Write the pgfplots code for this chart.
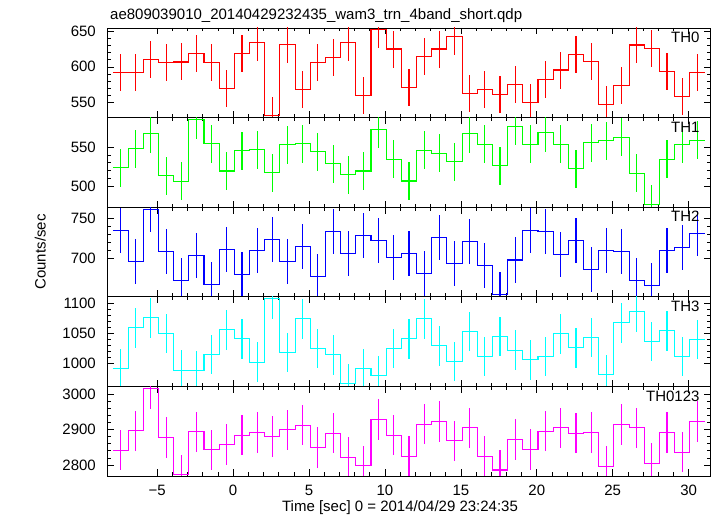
\documentclass[border=0pt]{standalone}
\usepackage{fontspec}
\setmainfont{Liberation Sans}
\usepackage{pgfplots}
\pgfplotsset{compat=1.18}
\usepackage{pgfplotstable}

\definecolor{qred}{RGB}{255,0,0}
\definecolor{qgreen}{RGB}{0,255,0}
\definecolor{qblue}{RGB}{0,0,255}
\definecolor{qcyan}{RGB}{0,255,255}
\definecolor{qmag}{RGB}{255,0,255}

\pgfplotstableread{
x a b c d e
-7.42 592.3 523.9 735.1 990.3 2841.8
-6.42 592.3 547.7 696.8 1058.8 2896.3
-5.42 610.6 566.6 761.0 1075.5 3016.1
-4.42 605.8 513.8 708.6 1049.2 2877.7
-3.42 606.8 506.7 673.3 988.0 2772.0
-2.42 618.5 584.2 704.2 987.5 2893.5
-1.42 606.4 554.0 668.4 1014.2 2842.7
-0.42 569.7 519.6 711.6 1055.4 2857.9
0.58 618.5 545.2 679.9 1040.4 2884.2
1.58 634.5 546.5 710.4 1001.3 2891.8
2.58 532.0 517.6 723.5 1107.2 2880.5
3.58 631.7 552.8 696.8 1017.5 2899.2
4.58 568.7 554.0 715.3 1073.8 2912.4
5.58 605.8 544.0 677.4 1024.2 2849.4
6.58 612.8 528.9 733.8 1013.7 2889.8
7.58 634.5 515.0 706.7 965.3 2821.2
8.58 559.9 519.6 728.9 990.3 2797.5
9.58 652.8 572.4 722.7 979.1 2928.5
10.58 625.0 534.3 701.7 1024.2 2884.2
11.58 571.1 507.0 706.2 1040.4 2824.0
12.58 614.8 545.6 681.1 1073.8 2915.3
13.58 625.0 542.2 726.8 1028.7 2922.9
14.58 642.4 531.4 693.8 1002.5 2868.1
15.58 562.1 566.6 721.9 1053.1 2904.8
16.58 568.3 553.5 691.8 1010.9 2824.0
17.58 561.3 526.4 655.6 1044.2 2785.3
18.58 575.4 576.1 698.4 1021.4 2872.0
19.58 550.4 553.1 735.4 1005.3 2843.8
20.58 582.4 567.8 734.2 1010.4 2895.5
21.58 595.5 553.5 705.8 1048.7 2904.8
22.58 617.6 522.6 722.7 1025.4 2889.8
23.58 607.2 555.3 686.4 1042.6 2891.8
24.58 547.2 557.8 710.4 980.3 2795.8
25.58 574.0 561.9 709.1 1067.1 2914.4
26.58 630.7 516.7 673.3 1085.5 2904.8
27.58 625.5 477.4 666.7 1036.4 2805.1
28.58 593.7 534.3 710.4 1053.8 2891.8
29.58 558.5 553.1 714.0 1010.4 2836.2
30.58 592.3 558.2 731.7 1039.2 2922.9
31.58 592.3 558.2 731.7 1039.2 2922.9
}\data

\newcommand{\ff}{\fontsize{15bp}{18bp}\selectfont}

\pgfplotsset{
  panel/.style={
    anchor=south west,
    width=603bp, height=89.6bp, scale only axis,
    xmin=-8.31, xmax=31.41,
    xtick={-5,0,5,10,15,20,25,30},
    xticklabels={},
    minor x tick num=4,
    minor y tick num=4,
    tick pos=both,
    tick align=inside,
    major tick length=6.5bp,
    minor tick length=3.5bp,
    every tick/.style={black, line width=0.6bp},
    axis line style={black, line width=0.8bp},
    scaled y ticks=false,
    /pgf/number format/assume math mode=true,
    /pgf/number format/1000 sep={},
    yticklabel style={font=\ff, inner sep=0pt, xshift=-11bp},
    xticklabel style={font=\ff, inner sep=0pt, anchor=north, yshift=-8.6bp},
  },
}

\begin{document}
\begin{tikzpicture}
\useasboundingbox (0,0) rectangle (717bp,516bp);

\begin{axis}[panel, at={(107bp,398.4bp)}, ymin=528.6, ymax=654.6, ytick={550,600,650}]
\addplot[draw=none, mark=none, forget plot, error bars/.cd, y dir=both, y fixed=26, error mark=none, error bar style={color=qred, line width=1.1bp}] table[x=x, y=a]{\data};
\addplot[color=qred, const plot mark left, line width=1.1bp, mark=none] table[x expr=\thisrow{x}-0.5, y=a]{\data};
\node[font=\ff, anchor=base east, xshift=-7bp, yshift=-14.7bp] at (rel axis cs:1,1) {TH0};
\end{axis}

\begin{axis}[panel, at={(107bp,308.8bp)}, ymin=474, ymax=586.9, ytick={500,550}]
\addplot[draw=none, mark=none, forget plot, error bars/.cd, y dir=both, y fixed=24, error mark=none, error bar style={color=qgreen, line width=1.1bp}] table[x=x, y=b]{\data};
\addplot[color=qgreen, const plot mark left, line width=1.1bp, mark=none] table[x expr=\thisrow{x}-0.5, y=b]{\data};
\node[font=\ff, anchor=base east, xshift=-7bp, yshift=-14.7bp] at (rel axis cs:1,1) {TH1};
\end{axis}

\begin{axis}[panel, at={(107bp,219.2bp)}, ymin=652.7, ymax=764, ytick={700,750}]
\addplot[draw=none, mark=none, forget plot, error bars/.cd, y dir=both, y fixed=28, error mark=none, error bar style={color=qblue, line width=1.1bp}] table[x=x, y=c]{\data};
\addplot[color=qblue, const plot mark left, line width=1.1bp, mark=none] table[x expr=\thisrow{x}-0.5, y=c]{\data};
\node[font=\ff, anchor=base east, xshift=-7bp, yshift=-14.7bp] at (rel axis cs:1,1) {TH2};
\end{axis}

\begin{axis}[panel, at={(107bp,129.6bp)}, ymin=960.8, ymax=1110.8, ytick={1000,1050,1100}]
\addplot[draw=none, mark=none, forget plot, error bars/.cd, y dir=both, y fixed=33, error mark=none, error bar style={color=qcyan, line width=1.1bp}] table[x=x, y=d]{\data};
\addplot[color=qcyan, const plot mark left, line width=1.1bp, mark=none] table[x expr=\thisrow{x}-0.5, y=d]{\data};
\node[font=\ff, anchor=base east, xshift=-7bp, yshift=-14.7bp] at (rel axis cs:1,1) {TH3};
\end{axis}

\begin{axis}[panel, at={(107bp,40bp)}, ymin=2768.4, ymax=3022.6, ytick={2800,2900,3000},
  xticklabels={−5,0,5,10,15,20,25,30}]
\addplot[draw=none, mark=none, forget plot, error bars/.cd, y dir=both, y fixed=57, error mark=none, error bar style={color=qmag, line width=1.1bp}] table[x=x, y=e]{\data};
\addplot[color=qmag, const plot mark left, line width=1.1bp, mark=none] table[x expr=\thisrow{x}-0.5, y=e]{\data};
\node[font=\ff, anchor=base east, xshift=-7bp, yshift=-14.7bp] at (rel axis cs:1,1) {TH0123};
\end{axis}

\node[font=\ff, anchor=base west, inner sep=0pt] at (110bp,496.5bp) {ae809039010\_20140429232435\_wam3\_trn\_4band\_short.qdp};
\node[font=\ff, anchor=base, inner sep=0pt, rotate=90] at (45.5bp,264bp) {Counts/sec};
\node[font=\ff, anchor=base, inner sep=0pt] at (400bp,4.5bp) {Time [sec] 0 = 2014/04/29 23:24:35};
\end{tikzpicture}
\end{document}
